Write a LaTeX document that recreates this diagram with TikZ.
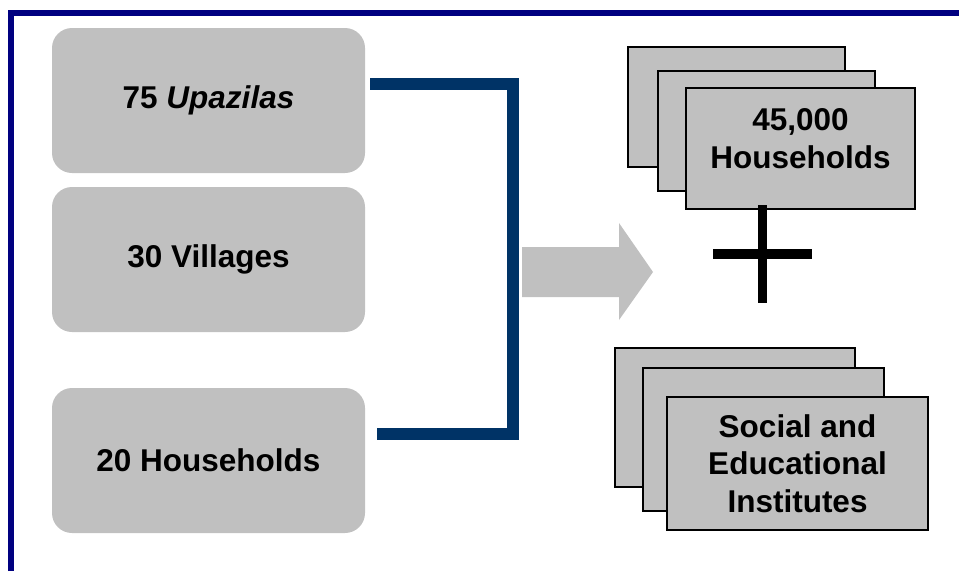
\documentclass[tikz,border=0pt]{standalone}
\usepackage{fontspec}
\setmainfont{Liberation Sans}
\definecolor{boxgray}{HTML}{C0C0C0}
\definecolor{linkblue}{HTML}{003366}
\definecolor{framenavy}{HTML}{000080}
\tikzset{
  roundbox/.style={fill=boxgray,rounded corners=20pt,minimum width=313pt,minimum height=145pt,
    font=\bfseries\fontsize{31.5}{38}\selectfont},
  card/.style={draw,fill=boxgray,line width=1.5pt,inner sep=0pt},
  cardtext/.style={align=center,font=\bfseries\fontsize{31.5}{37.5}\selectfont}
}
\begin{document}
\begin{tikzpicture}[x=1pt,y=-1pt]
\useasboundingbox (0,0) rectangle (959,571);
\draw[framenavy,line width=6pt] (11,571) -- (11,13) -- (959,13);
% sample levels
\node[roundbox] (U) at (208.5,100.5) {75 \textit{Upazilas}};
\node[roundbox] (V) at (208.5,259.5) {30 Villages};
\node[roundbox] (H) at (208.5,460.5) {20 Households};
% bracket
\coordinate (bt) at (370,84);
\coordinate (bb) at (377,434);
\draw[linkblue,line width=12pt] (bt) -- (512.5,84) -- (512.5,434) -- (bb);
% arrow
\fill[boxgray] (522,247) -- (619,247) -- (619,223) -- (653,272) -- (619,320) -- (619,297) -- (522,297) -- cycle;
% card stacks
\foreach \n/\x/\y/\w/\h in {A1/736.5/107/217/120,A2/766.5/131/217/120,A3/800.5/148.5/229/121,
    S1/735/417.5/240/139,S2/763.5/439.5/241/143,S3/797.5/463.5/261/133} {
  \node[card,minimum width=\w pt,minimum height=\h pt] (\n) at (\x,\y) {};
}
\node[cardtext] (A) at ([yshift=10pt]A3.center) {45,000\\Households};
\node[cardtext] (S) at (S3.center) {Social and\\Educational\\Institutes};
% plus
\draw[line width=9pt] (762.5,205) -- (762.5,303);
\draw[line width=10pt] (713,254) -- (812,254);
\end{tikzpicture}
\end{document}
